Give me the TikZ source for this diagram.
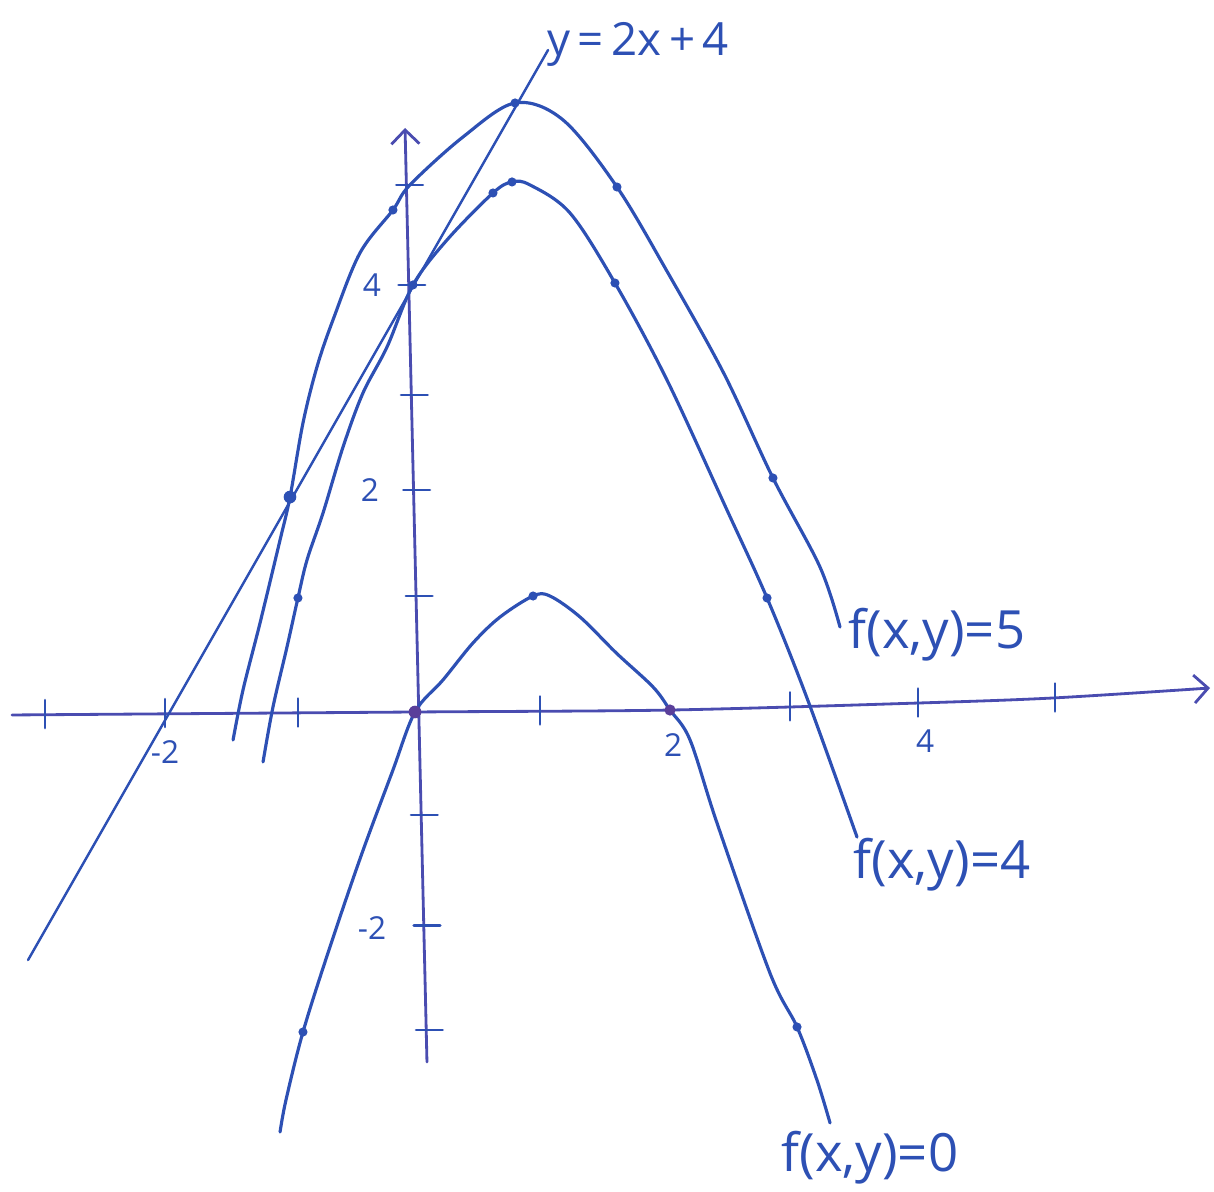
\documentclass[tikz,border=0pt]{standalone}
\usepackage{fontspec}
\newfontfamily\handfont{Open Sans}
\usetikzlibrary{arrows.meta}
\definecolor{ink}{HTML}{2D50B4}
\definecolor{inkaxis}{HTML}{4A4CB0}
\definecolor{inkdot}{HTML}{5A3F9A}
\tikzset{
  level/.style   = {draw=ink, line width=0.9pt, line cap=round, line join=round},
  tangent/.style = {draw=ink, line width=0.7pt, line cap=round},
  axis/.style    = {draw=inkaxis, line width=0.8pt, line cap=round,
                    -{Straight Barb[length=1.4mm, width=2.8mm]}},
  tick/.style    = {draw=ink, line width=0.8pt, line cap=round},
  num/.style     = {font=\handfont\fontsize{9}{10}\selectfont, text=ink, inner sep=0pt},
  lab/.style     = {font=\handfont\fontsize{15}{16}\selectfont, text=ink, inner sep=0pt},
  dot/.style     = {fill=ink},
  odot/.style    = {fill=inkdot},
}
\begin{document}
\begin{tikzpicture}[x=1.26cm,y=1.03cm]
\useasboundingbox (-3.2937,-4.6602) rectangle (6.3413,6.9126);

% ------------------------------------------------------------------ axes
\draw[axis] plot[smooth] coordinates {(-3.198,-0.029) (0,0) (2.024,0.019) (3.992,0.087) (5.063,0.136) (6.310,0.233)};
\draw[axis] (0.095,-3.398) -- (-0.079,5.670);

\foreach \tx/\ty in {-2.937/-0.025, -1.984/-0.015, -0.929/-0.010, 0.992/0.010, 2.976/0.050, 3.992/0.087, 5.079/0.136}
  {\draw[tick] (\tx,{\ty-0.13}) -- (\tx,{\ty+0.14});}
\foreach \tx/\ty in {-0.068/5.117, -0.050/4.146, -0.030/3.078, -0.012/2.155, 0.008/1.126, 0.049/-1.0, 0.070/-2.07, 0.089/-3.087}
  {\draw[tick] ({\tx-0.08},\ty) -- ({\tx+0.13},\ty);}

\node[num] (ly4)  at (-0.341,4.146)  {4};
\node[num] (ly2)  at (-0.357,2.155)  {2};
\node[num] (lym2) at (-0.341,-2.097) {-2};
\node[num] (lxm2) at (-1.984,-0.388) {-2};
\node[num] (lx2)  at (2.048,-0.320)  {2};
\node[num] (lx4)  at (4.048,-0.282)  {4};

% ------------------------------------------------------------------ level curves
\draw[level] plot[smooth, tension=0.55] coordinates {
  (-1.444,-0.272) (-1.365,0.214) (-1.230,0.864) (-1.071,1.670) (-0.992,2.087)
  (-0.889,2.806) (-0.778,3.350) (-0.651,3.806) (-0.437,4.456) (-0.175,4.874)
  (-0.040,5.117) (0.381,5.583) (0.794,5.913) (1.175,5.748) (1.603,5.097)
  (2.008,4.262) (2.450,3.290) (2.841,2.272) (3.214,1.408) (3.373,0.825)};
\draw[level] plot[smooth, tension=0.55] coordinates {
  (-1.206,-0.485) (-1.127,0.049) (-1.016,0.631) (-0.929,1.107) (-0.857,1.476)
  (-0.730,1.932) (-0.571,2.573) (-0.413,3.097) (-0.222,3.544) (-0.016,4.146)
  (0.254,4.583) (0.619,5.039) (0.770,5.146) (0.913,5.117) (1.230,4.845)
  (1.587,4.165) (2.000,3.223) (2.476,1.961) (2.794,1.107) (3.111,0.136)
  (3.508,-1.214)};
\draw[level] plot[smooth, tension=0.55] coordinates {
  (-1.071,-4.078) (-1.024,-3.767) (-0.889,-3.107) (-0.683,-2.311) (-0.429,-1.400)
  (-0.180,-0.580) (0,0) (0.222,0.311) (0.460,0.670) (0.675,0.922)
  (0.937,1.126) (1.071,1.126) (1.310,0.922) (1.600,0.570) (1.889,0.243)
  (2.024,0.019) (2.183,-0.272) (2.397,-1.078) (2.817,-2.534)
  (3.032,-3.058) (3.190,-3.573) (3.294,-3.990)};

% ------------------------------------------------------------------ tangent line
\draw[tangent] (-3.071,-2.408) -- (1.056,6.427);

% ------------------------------------------------------------------ marked points
\foreach \p in {(0.937,1.126), (-0.889,-3.107), (3.032,-3.058), (-0.929,1.107),
                (0.770,5.146), (1.587,4.165), (2.794,1.107), (0.794,5.913),
                (1.603,5.097), (2.841,2.272), (-0.175,4.874), (-0.016,4.146),
                (0.619,5.039)}
  {\fill[dot] \p circle[radius=1.3pt];}
\fill[dot] (-0.992,2.087) circle[radius=1.8pt];
\fill[odot] (0,0) circle[radius=1.8pt];
\fill[odot] (2.024,0.019) circle[radius=1.6pt];

% ------------------------------------------------------------------ labels
\node[lab, font=\handfont\fontsize{13}{14}\selectfont] (lline) at (1.770,6.480) {y\,=\,2x\,+\,4};
\node[lab] (lc5)   at (4.143,0.748)  {f(x,y)=5};
\node[lab] (lc4)   at (4.183,-1.485) {f(x,y)=4};
\node[lab] (lc0)   at (3.611,-4.330) {f(x,y)=0};

\end{tikzpicture}
\end{document}
